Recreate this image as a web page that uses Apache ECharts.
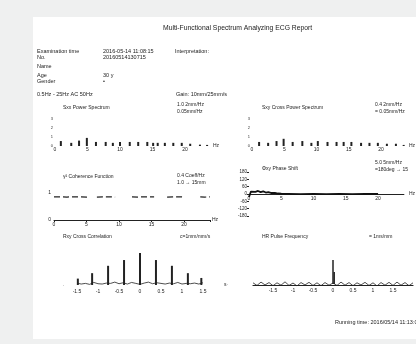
<!DOCTYPE html>
<html>
<head>
<meta charset="utf-8">
<script src="https://cdn.jsdelivr.net/npm/echarts@6/dist/echarts.min.js"></script>
<style>
html, body { margin: 0; padding: 0; background: #eff0f0; }
#panel { position: absolute; left: 33px; top: 17px; width: 400px; height: 322px; background: #fff; }
#chart { position: absolute; left: 0; top: 0; width: 416px; height: 344px; }
</style>
</head>
<body>
<div id="panel"></div>
<div id="chart"></div>
<script>
// spectrum peaks (Hz, relative power)
var psdFreq = [0.9, 2.5, 3.7, 4.9, 6.3, 7.8, 8.9, 10.0, 11.5, 12.8, 14.2, 15.1, 15.8, 16.9, 18.2, 19.5, 20.8, 22.3, 23.4];
var psdVals = [0.55, 0.35, 0.6, 0.9, 0.45, 0.45, 0.35, 0.45, 0.45, 0.45, 0.45, 0.35, 0.35, 0.35, 0.35, 0.35, 0.25, 0.15, 0.12];
var cpsFreq = [1.1, 2.5, 3.8, 4.9, 6.3, 7.8, 9.2, 10.2, 11.7, 13.1, 14.2, 15.4, 16.9, 18.2, 19.5, 20.9, 22.3, 23.5];
var cpsVals = [0.45, 0.35, 0.55, 0.8, 0.45, 0.55, 0.35, 0.55, 0.45, 0.45, 0.45, 0.45, 0.35, 0.35, 0.35, 0.25, 0.25, 0.12];

// coherence, null = gap
var cohFreq = [0, 1, 2, 3, 4, 5.1, 5.8, 6.6, 7.5, 8.5, 9.4, 10.5, 12, 13, 14, 15.4, 16.4, 17.4, 18.5, 19.7, 21, 22.5, 23.2, 24];
var cohVals = [0.86, 0.86, 0.85, 0.86, 0.86, 0.85, null, 0.85, 0.86, 0.86, 0.85, null, 0.86, 0.85, 0.86, 0.86, null, 0.85, 0.86, 0.86, null, 0.86, 0.85, 0.86];

// phase shift (deg)
var phaseFreq = [0, 0.3, 0.6, 1, 1.4, 1.8, 2.2, 2.6, 3, 3.5, 4, 4.5, 5, 6, 8, 10, 12, 14, 16, 18, 20];
var phaseVals = [-25, 20, 30, 18, 25, 15, 22, 12, 16, 8, 10, 4, 2, 1, -1, 1, -1, 1, -1, 1, 0];

// cross correlation (s)
var corrPeakT = [-1.48, -1.14, -0.76, -0.38, 0, 0.38, 0.76, 1.14, 1.46];
var corrPeakV = [0.2, 0.37, 0.6, 0.78, 1.0, 0.78, 0.6, 0.37, 0.22];
var corrNoiseT = [-1.5, -1.4, -1.3, -1.2, -1.1, -1.0, -0.9, -0.8, -0.7, -0.6, -0.5, -0.4, -0.3, -0.2, -0.1, 0, 0.1, 0.2, 0.3, 0.4, 0.5, 0.6, 0.7, 0.8, 0.9, 1.0, 1.1, 1.2, 1.3, 1.4, 1.5];
var corrNoiseV = [0.06, 0.03, 0.05, 0.02, 0.08, 0.04, 0.03, 0.06, 0.05, 0.09, 0.04, 0.07, 0.03, 0.08, 0.05, 0.02, 0.06, 0.09, 0.04, 0.07, 0.05, 0.03, 0.06, 0.04, 0.08, 0.03, 0.05, 0.04, 0.06, 0.03, 0.07];

// pulse frequency / auto correlation
var autoPeakT = [0, 0.03];
var autoPeakV = [1.0, 0.5];
var autoNoiseT = [-2, -1.9, -1.8, -1.7, -1.6, -1.5, -1.4, -1.3, -1.2, -1.1, -1.0, -0.9, -0.8, -0.7, -0.6, -0.5, -0.4, -0.3, -0.2, -0.1, 0, 0.1, 0.2, 0.3, 0.4, 0.5, 0.6, 0.7, 0.8, 0.9, 1.0, 1.1, 1.2, 1.3, 1.4, 1.5, 1.6, 1.7, 1.8, 1.9, 2];
var autoNoiseV = [0.05, -0.06, 0.08, -0.04, 0.06, -0.07, 0.05, -0.05, 0.09, -0.06, 0.04, -0.08, 0.06, -0.04, 0.07, -0.06, 0.05, -0.07, 0.06, -0.05, 0.04, -0.06, 0.08, -0.05, 0.06, -0.07, 0.05, -0.04, 0.07, -0.06, 0.05, -0.08, 0.06, -0.05, 0.07, -0.06, 0.08, -0.05, 0.06, -0.07, 0.05];

var FONT = '"Liberation Sans", Arial, sans-serif';
var INK = '#222';

function pairs(xs, ys) {
    return xs.map(function (x, i) { return [x, ys[i] == null ? '-' : ys[i]]; });
}

function txt(x, y, s, size) {
    return {
        type: 'text', x: x, y: y,
        style: { text: s, fontSize: size || 5.5, fontFamily: FONT, fill: INK, verticalAlign: 'middle' }
    };
}

function xAxis(gi, min, max, interval, name, opts) {
    var ax = {
        gridIndex: gi, type: 'value', min: min, max: max, interval: interval,
        name: name, nameLocation: 'end', nameGap: 2,
        nameTextStyle: { fontSize: 5, fontFamily: FONT, color: INK },
        axisLine: { show: false, onZero: false, lineStyle: { color: INK, width: 1 } },
        axisTick: { show: false },
        axisLabel: { fontSize: 5, fontFamily: FONT, color: INK, margin: 2 },
        splitLine: { show: false }
    };
    return Object.assign(ax, opts || {});
}

function yAxis(gi, min, max, interval, opts) {
    var ax = {
        gridIndex: gi, type: 'value', min: min, max: max, interval: interval,
        axisLine: { show: false },
        axisTick: { show: false },
        axisLabel: { fontSize: 4, fontFamily: FONT, color: '#333', margin: 2 },
        splitLine: { show: false }
    };
    return Object.assign(ax, opts || {});
}

var every5 = function (v) { return v % 5 === 0 ? v : ''; };
var halfs = function (v) { return (Math.abs(v) <= 1.5) ? v : ''; };
var zeroDot = function (v) { return v === 0 ? '.' : ''; };

var chart = echarts.init(document.getElementById('chart'));

var option = {
    backgroundColor: 'transparent',
    animation: false,
    grid: [
        { left: 55, top: 119, width: 156, height: 27 },
        { left: 252, top: 119, width: 156, height: 27 },
        { left: 54, top: 193, width: 156, height: 27 },
        { left: 249, top: 172, width: 156, height: 44 },
        { left: 77, top: 253, width: 126, height: 32 },
        { left: 253, top: 260, width: 168, height: 30 }
    ],
    xAxis: [
        xAxis(0, 0, 24, 5, 'Hz', { axisLabel: { fontSize: 5, color: INK, margin: 1, formatter: every5 } }),
        xAxis(1, 0, 24, 5, 'Hz', { axisLabel: { fontSize: 5, color: INK, margin: 1, formatter: every5 } }),
        xAxis(2, 0, 24, 5, 'Hz', {
            axisLine: { show: true, onZero: false, lineStyle: { color: INK, width: 1 } },
            axisTick: { show: true, length: 2, lineStyle: { color: INK } },
            axisLabel: { fontSize: 5, color: INK, margin: 2, formatter: every5 }
        }),
        xAxis(3, 0, 24, 5, 'Hz', {
            offset: -22,
            axisLine: { show: true, onZero: false, lineStyle: { color: INK, width: 1 } },
            axisLabel: { fontSize: 5, color: INK, margin: 2, formatter: every5 },
            nameGap: 5, nameTextStyle: { fontSize: 5, color: INK, padding: [12, 0, 0, 0] }
        }),
        xAxis(4, -1.5, 1.5, 0.5, 's', {
            nameGap: 21, nameTextStyle: { fontSize: 5, color: INK, padding: [12, 0, 0, 0] },
            axisLabel: { fontSize: 5, color: INK, margin: 4 }
        }),
        xAxis(5, -2, 2, 0.5, '', {
            offset: -5,
            axisLine: { show: true, onZero: false, lineStyle: { color: INK, width: 1.2 } },
            axisLabel: { fontSize: 5, color: INK, margin: 3, formatter: halfs }
        })
    ],
    yAxis: [
        yAxis(0, 0, 3, 1),
        yAxis(1, 0, 3, 1),
        yAxis(2, 0, 1, 1, { axisLabel: { fontSize: 5, color: INK, margin: 3 } }),
        yAxis(3, -180, 180, 60, {
            axisTick: { show: true, length: 2, lineStyle: { color: INK } },
            axisLabel: { fontSize: 4.5, color: INK, margin: 2 }
        }),
        yAxis(4, 0, 1, 1, { axisLabel: { fontSize: 4, color: INK, margin: 13, formatter: zeroDot } }),
        yAxis(5, -0.25, 1, 0.25, { axisLabel: { fontSize: 4, color: INK, margin: 25, formatter: zeroDot } })
    ],
    series: [
        { type: 'bar', xAxisIndex: 0, yAxisIndex: 0, barWidth: 2, data: pairs(psdFreq, psdVals), itemStyle: { color: INK } },
        { type: 'bar', xAxisIndex: 1, yAxisIndex: 1, barWidth: 2, data: pairs(cpsFreq, cpsVals), itemStyle: { color: INK } },
        {
            type: 'line', xAxisIndex: 2, yAxisIndex: 2, data: pairs(cohFreq, cohVals), showSymbol: false,
            connectNulls: false, lineStyle: { color: INK, width: 1.2, type: [6, 3] }
        },
        {
            type: 'line', xAxisIndex: 3, yAxisIndex: 3, data: pairs(phaseFreq, phaseVals), showSymbol: false,
            clip: false, lineStyle: { color: '#111', width: 1.8, type: 'solid' }
        },
        {
            type: 'line', xAxisIndex: 4, yAxisIndex: 4, data: pairs(corrNoiseT, corrNoiseV), showSymbol: false,
            lineStyle: { color: INK, width: 0.8 }
        },
        { type: 'bar', xAxisIndex: 4, yAxisIndex: 4, barWidth: 2, data: pairs(corrPeakT, corrPeakV), itemStyle: { color: INK } },
        {
            type: 'line', xAxisIndex: 5, yAxisIndex: 5, data: pairs(autoNoiseT, autoNoiseV), showSymbol: false,
            clip: false, lineStyle: { color: INK, width: 0.8 }
        },
        { type: 'bar', xAxisIndex: 5, yAxisIndex: 5, barWidth: 1.5, data: pairs(autoPeakT, autoPeakV), itemStyle: { color: INK } }
    ],
    graphic: {
        elements: [
            txt(163, 28, 'Multi-Functional Spectrum Analyzing ECG Report', 6.8),
            txt(37, 51, 'Examination time'),
            txt(103, 51, '2016-05-14 11:08:15'),
            txt(175, 51, 'Interpretation:'),
            txt(37, 57, 'No.'),
            txt(103, 57, '20160514130715'),
            txt(37, 66, 'Name'),
            txt(37, 75, 'Age'),
            txt(103, 75, '30 y'),
            txt(37, 81, 'Gender'),
            txt(103, 81, '•'),
            txt(37, 94, '0.5Hz - 25Hz AC 50Hz'),
            txt(176, 94, 'Gain: 10mm/25mm/s'),

            txt(63, 108, 'Sxx Power Spectrum', 5),
            txt(177, 105, '1.0 2mm/Hz', 5),
            txt(177, 112, '0.05mm/Hz', 5),
            txt(262, 108, 'Sxy Cross Power Spectrum', 5),
            txt(375, 105, '0.4 2mm/Hz', 5),
            txt(375, 112, '= 0.05mm/Hz', 5),

            txt(63, 177, 'γ² Coherence Function', 5),
            txt(177, 176, '0.4 Coeff/Hz', 5),
            txt(177, 183, '1.0 → 15mm', 5),
            txt(262, 169, 'Φxy Phase Shift', 5),
            txt(375, 163, '5.0 5mm/Hz', 5),
            txt(375, 170, '=180deg → 15', 5),

            txt(63, 237, 'Rxy Cross Correlation', 5),
            txt(180, 237, 'c=1mm/mm/s', 5),
            txt(262, 237, 'HR Pulse Frequency', 5),
            txt(369, 237, '= 1ms/mm', 5),

            txt(335, 322, 'Running time: 2016/05/14 11:13:02', 5.5)
        ]
    }
};

chart.setOption(option);
</script>
</body>
</html>
